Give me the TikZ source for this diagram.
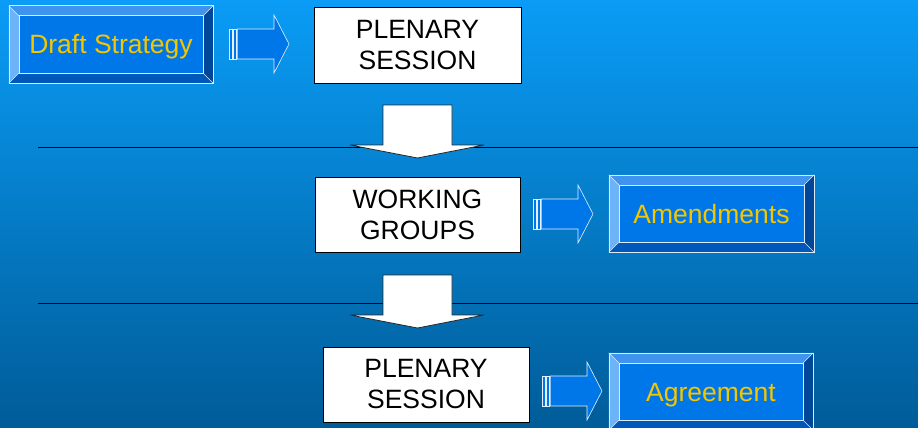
\documentclass[tikz,border=0pt]{standalone}
\usepackage{fontspec}
\setmainfont{Liberation Sans}
\usetikzlibrary{calc}
\definecolor{bgtop}{RGB}{10,156,246}
\definecolor{bgbot}{RGB}{0,92,152}
\definecolor{bvmid}{RGB}{0,119,232}
\definecolor{bvtopc}{RGB}{62,148,238}
\definecolor{bvleftc}{RGB}{108,180,247}
\definecolor{bvbotc}{RGB}{0,89,186}
\definecolor{bvrightc}{RGB}{0,71,154}
\definecolor{gold}{RGB}{245,198,0}
\newcommand\bevelize[1]{%
  \fill[bvtopc] (#1.north west) -- (#1.north east) -- ($(#1.north east)+(-10,10)$) -- ($(#1.north west)+(10,10)$) -- cycle;
  \fill[bvleftc] (#1.north west) -- ($(#1.north west)+(10,10)$) -- ($(#1.south west)+(10,-10)$) -- (#1.south west) -- cycle;
  \fill[bvbotc] (#1.south west) -- ($(#1.south west)+(10,-10)$) -- ($(#1.south east)+(-10,-10)$) -- (#1.south east) -- cycle;
  \fill[bvrightc] (#1.south east) -- ($(#1.south east)+(-10,-10)$) -- ($(#1.north east)+(-10,10)$) -- (#1.north east) -- cycle;
  \draw[bvline] (#1.north west) rectangle (#1.south east);
  \draw[bvline] ($(#1.north west)+(10,10)$) rectangle ($(#1.south east)+(-10,-10)$);
  \draw[bvline] (#1.north west) -- ++(10,10);
  \draw[bvline] (#1.north east) -- ++(-10,10);
  \draw[bvline] (#1.south west) -- ++(10,-10);
  \draw[bvline] (#1.south east) -- ++(-10,-10);
}
\newcommand\blockarrow[2]{%
  \begin{scope}[shift={(#1,#2)}]
    \draw[arrline] (0,-15) rectangle (3.3,15);
    \draw[arrline] (4.3,-15) rectangle (7.7,15);
    \draw[arrline] (8.3,-15) -- (45,-15) -- (45,-29) -- (60,0) -- (45,29) -- (45,15) -- (8.3,15) -- cycle;
  \end{scope}}
\newcommand\dnarrow[1]{%
  \begin{scope}[shift={(0,#1)}]
    \draw[dnline] (383,0) -- (452,0) -- (452,40) -- (484,40) -- (417.5,53) -- (350,40) -- (383,40) -- cycle;
  \end{scope}}
\begin{document}
\begin{tikzpicture}[x=1pt,y=-1pt,
  txt/.style={font=\fontsize{26.5}{31}\selectfont, align=center},
  bevelbox/.style={txt, inner sep=0pt, fill=bvmid, text=gold, text height=19pt, text depth=0pt},
  whitebox/.style={txt, inner sep=0pt, draw=black, fill=white, line width=0.8pt, text=black},
  bvline/.style={draw=white!85!bvmid, line width=0.6pt},
  arrline/.style={draw=white!90!bvmid, fill=bvmid, line width=0.6pt},
  dnline/.style={draw=black!85, fill=white, line width=0.8pt, line join=miter},
  sepline/.style={draw=black, line width=1pt}]
\useasboundingbox (0,0) rectangle (918,428);
\shade[top color=bgtop, bottom color=bgbot] (0,0) rectangle (918,428);
% separator lines
\coordinate (l1a) at (38,147); \coordinate (l1b) at (918,147);
\coordinate (l2a) at (38,303); \coordinate (l2b) at (918,303);
\draw[sepline] (l1a) -- (l1b);
\draw[sepline] (l2a) -- (l2b);
% boxes
\node[bevelbox, minimum width=204pt, minimum height=77pt] (ds) at (111,44.5) {Draft Strategy};
\bevelize{ds}
\node[whitebox, minimum width=207pt, minimum height=76pt] (plen1) at (417.5,45) {PLENARY\\SESSION};
\node[whitebox, minimum width=205pt, minimum height=75pt] (wg) at (417.5,214.5) {WORKING\\GROUPS};
\node[bevelbox, minimum width=205pt, minimum height=77pt] (amd) at (711.5,213.5) {Amendments};
\bevelize{amd}
\node[whitebox, minimum width=206pt, minimum height=75pt] (plen2) at (426,384.5) {PLENARY\\SESSION};
\node[bevelbox, minimum width=204pt, minimum height=77pt] (agr) at (711,391.5) {Agreement};
\bevelize{agr}
% arrows
\blockarrow{229}{44}
\blockarrow{533}{214}
\blockarrow{542}{391}
\dnarrow{105}
\dnarrow{275}
\end{tikzpicture}
\end{document}
